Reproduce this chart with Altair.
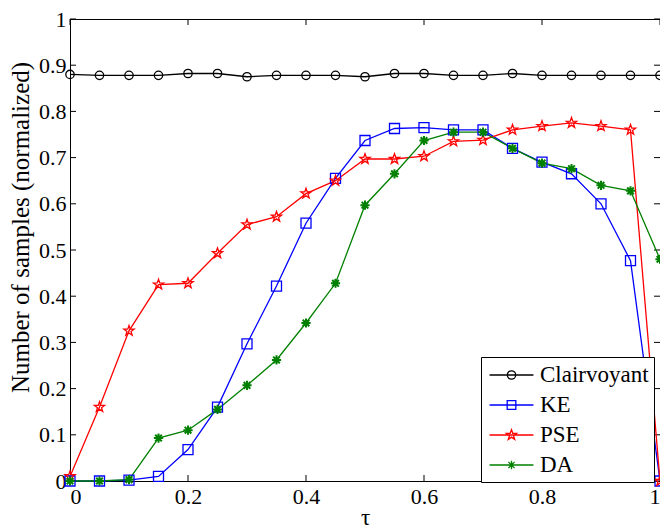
import altair as alt
import pandas as pd

tau = [0.0, 0.05, 0.1, 0.15, 0.2, 0.25, 0.3, 0.35, 0.4, 0.45, 0.5,
       0.55, 0.6, 0.65, 0.7, 0.75, 0.8, 0.85, 0.9, 0.95, 1.0]
clairvoyant = [0.880, 0.878, 0.878, 0.878, 0.882, 0.882, 0.875, 0.878, 0.878, 0.878, 0.875,
               0.882, 0.882, 0.878, 0.878, 0.882, 0.878, 0.878, 0.878, 0.878, 0.878]
ke = [0.0, 0.0, 0.002, 0.010, 0.068, 0.160, 0.297, 0.422, 0.558, 0.655, 0.737,
      0.763, 0.765, 0.760, 0.760, 0.720, 0.690, 0.665, 0.600, 0.477, 0.0]
pse = [0.010, 0.160, 0.325, 0.425, 0.428, 0.493, 0.555, 0.572, 0.622, 0.650, 0.697,
       0.697, 0.703, 0.735, 0.738, 0.760, 0.768, 0.775, 0.768, 0.760, 0.0]
da = [0.0, 0.0, 0.003, 0.093, 0.110, 0.155, 0.207, 0.262, 0.342, 0.428, 0.597,
      0.665, 0.737, 0.755, 0.755, 0.720, 0.688, 0.676, 0.640, 0.628, 0.480]

series_names = ["Clairvoyant", "KE", "PSE", "DA"]
series_colors = ["#000000", "#0000FF", "#FF0000", "#008000"]
x_ticks = [0, 0.2, 0.4, 0.6, 0.8, 1.0]
y_ticks = [0, 0.1, 0.2, 0.3, 0.4, 0.5, 0.6, 0.7, 0.8, 0.9, 1.0]

rows = []
for name, vals in zip(series_names, [clairvoyant, ke, pse, da]):
    for t, v in zip(tau, vals):
        rows.append({"tau": t, "value": v, "series": name})
df = pd.DataFrame(rows)

W, H = 590, 462
FONT = "Liberation Serif"
TL = 6

STAR = ("M0,-1L0.235,-0.324L0.951,-0.309L0.380,0.124L0.588,0.809L0,0.4"
        "L-0.588,0.809L-0.380,0.124L-0.951,-0.309L-0.235,-0.324Z")
AST = "M0,-1L0,1M-1,0L1,0M-0.72,-0.72L0.72,0.72M-0.72,0.72L0.72,-0.72"
marker_shapes = ["circle", "square", STAR, AST]
marker_sizes = [70, 100, 115, 85]
marker_widths = [1.3, 1.3, 1.3, 2.0]

# legend symbols: line + marker (units of 12px)
LEG_LINE = "M-1.83,0L1.83,0"
LEG = {
    "Clairvoyant": LEG_LINE + "M-0.35,0A0.35,0.35,0,1,0,0.35,0A0.35,0.35,0,1,0,-0.35,0",
    "KE": LEG_LINE + "M-0.36,-0.36L0.36,-0.36L0.36,0.36L-0.36,0.36Z",
    "PSE": LEG_LINE + ("M0,-0.45L0.106,-0.146L0.428,-0.139L0.171,0.056L0.265,0.364L0,0.18"
                       "L-0.265,0.364L-0.171,0.056L-0.428,-0.139L-0.106,-0.146Z"),
    "DA": LEG_LINE + "M0,-0.36L0,0.36M-0.36,0L0.36,0M-0.26,-0.26L0.26,0.26M-0.26,0.26L0.26,-0.26",
}
shape_expr = ("datum.value === 'Clairvoyant' ? '%s' : datum.value === 'KE' ? '%s' : "
              "datum.value === 'PSE' ? '%s' : '%s'") % (LEG["Clairvoyant"], LEG["KE"], LEG["PSE"], LEG["DA"])

xscale = alt.Scale(domain=[0, 1], nice=False, zero=False)
yscale = alt.Scale(domain=[0, 1], nice=False, zero=False)

xaxis = alt.Axis(values=x_ticks, format="~g", ticks=False, tickSize=0, grid=False,
                 domain=False, labelFont=FONT, labelFontSize=22, labelColor="black",
                 labelPadding=5, title="τ", titleFont=FONT, titleFontSize=23,
                 titleFontWeight="normal", titleColor="black",
                 titleBaseline="alphabetic", titleY=43)
yaxis = alt.Axis(values=y_ticks, format="~g", ticks=False, tickSize=0, grid=False,
                 domain=False, labelFont=FONT, labelFontSize=22, labelColor="black",
                 labelPadding=4, title="Number of samples (normalized)", titleFont=FONT,
                 titleFontSize=25, titleFontWeight="normal", titleColor="black",
                 titleBaseline="alphabetic", titleX=-42, titleY=208)

color_scale = alt.Scale(domain=series_names, range=series_colors)

lines = alt.Chart(df).mark_line(strokeWidth=1.3, clip=False).encode(
    x=alt.X("tau:Q", scale=xscale, axis=xaxis),
    y=alt.Y("value:Q", scale=yscale, axis=yaxis),
    color=alt.Color("series:N", scale=color_scale, sort=series_names,
                    legend=alt.Legend(
                        orient="none", legendX=411, legendY=338, title=None,
                        labelFont=FONT, labelFontSize=23, labelColor="black",
                        labelExpr="datum.label + '\u00a0'",
                        symbolSize=576, rowPadding=5, padding=5,
                        strokeColor="black", fillColor="white",
                        symbolOffset=12.5, labelOffset=15.5,
                        symbolType=alt.ExprRef(expr=shape_expr),
                        symbolFillColor="transparent",
                        symbolStrokeWidth=1.3)),
)

point_layers = []
for name, col, shp, sz, sw in zip(series_names, series_colors, marker_shapes,
                                  marker_sizes, marker_widths):
    point_layers.append(
        alt.Chart(df).transform_filter(alt.datum.series == name)
        .mark_point(filled=False, shape=shp, size=sz, stroke=col, strokeWidth=sw,
                    clip=False, opacity=1)
        .encode(x=alt.X("tau:Q", scale=xscale), y=alt.Y("value:Q", scale=yscale))
    )

xt = pd.DataFrame({"v": x_ticks})
yt = pd.DataFrame({"v": y_ticks})
tb = alt.Chart(xt).mark_rule(color="black", strokeWidth=1).encode(
    x=alt.X("v:Q", scale=xscale), y=alt.value(H), y2=alt.value(H - TL))
tt = alt.Chart(xt).mark_rule(color="black", strokeWidth=1).encode(
    x=alt.X("v:Q", scale=xscale), y=alt.value(0), y2=alt.value(TL))
tl = alt.Chart(yt).mark_rule(color="black", strokeWidth=1).encode(
    y=alt.Y("v:Q", scale=yscale), x=alt.value(0), x2=alt.value(TL))
tr = alt.Chart(yt).mark_rule(color="black", strokeWidth=1).encode(
    y=alt.Y("v:Q", scale=yscale), x=alt.value(W), x2=alt.value(W - TL))

chart = alt.layer(tb, tt, tl, tr, lines, *point_layers).properties(
    width=W, height=H,
    autosize=alt.AutoSizeParams(type="none"),
    padding={"left": 62, "top": 11, "right": 0, "bottom": 48},
    background="white",
).configure_view(stroke="black", strokeWidth=1).configure_axis(labelFont=FONT)

chart.save("out.html", embed_options={"renderer": "svg", "actions": False})
